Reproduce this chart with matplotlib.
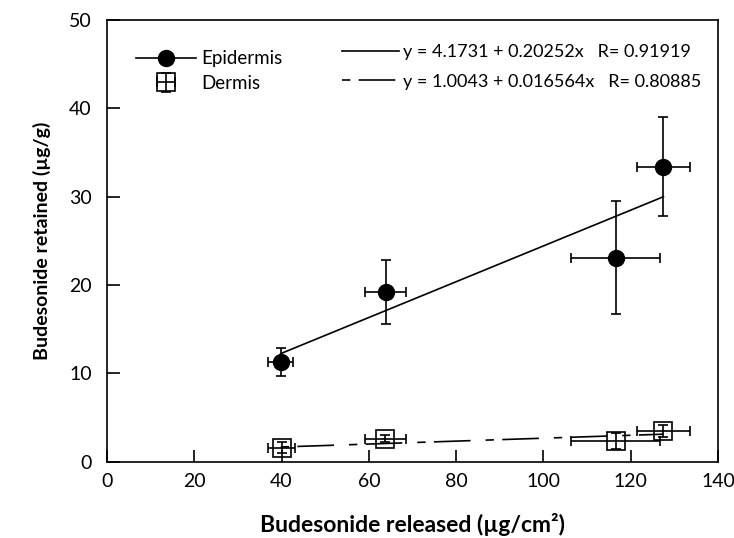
import matplotlib
matplotlib.use("Agg")
import matplotlib.pyplot as plt
from matplotlib.lines import Line2D
import numpy as np

plt.rcParams['font.family'] = ['Lato', 'Open Sans', 'DejaVu Sans']

# Epidermis: budesonide released vs retained
epi_x = [39.8, 63.9, 116.6, 127.5]
epi_xerr = [2.9, 4.7, 10.2, 6.1]
epi_y = [11.3, 19.2, 23.1, 33.4]
epi_yerr = [1.6, 3.65, 6.4, 5.6]

# Dermis
der_x = [40.0, 63.8, 116.6, 127.5]
der_xerr = [3.0, 4.6, 10.2, 6.1]
der_y = [1.6, 2.6, 2.3, 3.5]
der_yerr = [0.6, 0.4, 0.9, 0.7]

# linear fits (intercept, slope) and fitted x range
epi_fit = (4.1731, 0.20252)
der_fit = (1.0043, 0.016564)
fit_range = [39.8, 127.5]
epi_label = "y = 4.1731 + 0.20252x   R= 0.91919"
der_label = "y = 1.0043 + 0.016564x   R= 0.80885"

fig = plt.figure(figsize=(7.34, 5.38), dpi=100)
ax = fig.add_axes([107/734, 1-461.7/538, (718-107)/734, (461.7-20)/538])

xr = np.array(fit_range)
fit1, = ax.plot(xr, epi_fit[0] + epi_fit[1]*xr, color='black', lw=1.2)
fit2, = ax.plot(xr, der_fit[0] + der_fit[1]*xr, color='black', lw=1.2,
                dashes=(5, 5, 22, 9))

ax.errorbar(epi_x, epi_y, xerr=epi_xerr, yerr=epi_yerr, fmt='o', color='black',
            ms=11.5, elinewidth=1.2, capsize=3.6, capthick=1.2)
der = ax.errorbar(der_x, der_y, xerr=der_xerr, yerr=der_yerr, fmt='s', color='black',
                  mfc='none', mew=1.2, ms=12.5, elinewidth=1.2, capsize=3.6, capthick=1.2)

ax.set_xlim(0, 140)
ax.set_ylim(0, 50)
ax.set_xticks(np.arange(0, 141, 20))
ax.set_yticks(np.arange(0, 51, 10))
ax.tick_params(direction='in', length=9, width=1.2, labelsize=14)
ax.tick_params(axis='x', pad=8)
ax.tick_params(axis='y', pad=11)
for s in ax.spines.values():
    s.set_linewidth(1.2)

ax.set_xlabel("Budesonide released (\u00b5g/cm\u00b2)", fontsize=16.5, fontweight='bold', labelpad=17)
ax.set_ylabel("Budesonide retained (\u00b5g/g)", fontsize=14, fontweight='bold', labelpad=13)

h_epi = Line2D([], [], color='black', lw=1.2, marker='o', ms=11.5)
leg1 = ax.legend([h_epi, der], ["Epidermis", "Dermis"], loc='upper left',
                 bbox_to_anchor=(0.035, 0.948), frameon=False, fontsize=13.5,
                 handlelength=3.2, handletextpad=0.3, labelspacing=0.4, borderaxespad=0)
ax.add_artist(leg1)
ax.legend([fit1, fit2], [epi_label, der_label], loc='upper left',
          bbox_to_anchor=(0.372, 0.962), frameon=False, fontsize=13,
          handlelength=3.2, handletextpad=0.2, labelspacing=0.75, borderaxespad=0)

fig.savefig("out.png", dpi=100)
